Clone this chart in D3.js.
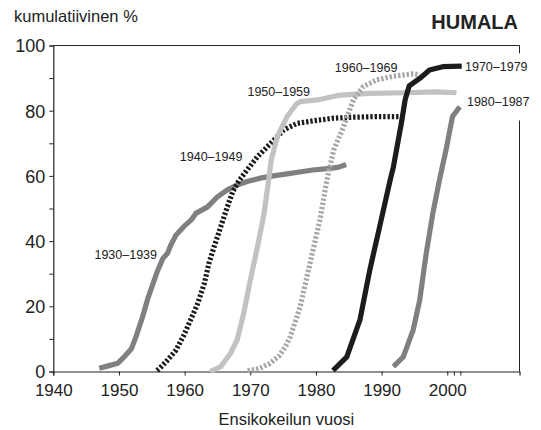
<!DOCTYPE html>
<html>
<head>
<meta charset="utf-8">
<script src="https://cdn.jsdelivr.net/npm/d3@7"></script>
<style>
  body { margin: 0; background: #fff; }
  svg { display: block; font-family: "Liberation Sans", Arial, sans-serif; }
</style>
</head>
<body>
<div id="chart"></div>
<script>
// cumulative share by year of first trial, one curve per birth cohort
const cohortNames = ["1930–1939", "1940–1949", "1950–1959", "1960–1969", "1970–1979", "1980–1987"];

const years1930 = [1947.0, 1948.5, 1949.8, 1950.8, 1951.9, 1952.6, 1953.6, 1954.4, 1955.2, 1955.9, 1956.7, 1957.4, 1957.9, 1958.7, 1959.9, 1961.0, 1961.7, 1963.5, 1965.0, 1966.5, 1968.0, 1969.5, 1971.5, 1973.5, 1975.6, 1977.5, 1979.5, 1982.2, 1983.5, 1984.6];
const values1930 = [1.0, 1.8, 2.5, 4.5, 7.0, 10.7, 16.8, 22.4, 27.0, 31.0, 34.7, 36.3, 38.8, 41.9, 44.5, 46.5, 48.5, 50.5, 53.6, 55.7, 57.2, 58.3, 59.3, 60.0, 60.6, 61.2, 61.8, 62.3, 62.7, 63.5];

const years1940 = [1955.8, 1956.2, 1957.4, 1958.7, 1959.9, 1960.9, 1962.0, 1963.0, 1963.7, 1964.5, 1965.5, 1966.5, 1967.3, 1968.2, 1969.2, 1971.1, 1973.1, 1975.1, 1977.1, 1979.6, 1982.7, 1985.7, 1989.2, 1992.8];
const values1940 = [0.3, 1.0, 3.5, 6.6, 11.2, 15.8, 20.9, 27.0, 33.2, 38.3, 44.4, 50.5, 55.0, 58.3, 61.0, 65.9, 70.0, 74.1, 76.1, 76.9, 77.7, 78.0, 78.2, 78.2];

const years1950 = [1963.9, 1965.5, 1967.0, 1968.0, 1969.0, 1970.0, 1971.1, 1972.1, 1972.8, 1973.2, 1974.1, 1975.6, 1977.0, 1977.6, 1980.2, 1983.7, 1988.2, 1993.7, 1998.3, 2001.4];
const values1950 = [0.0, 1.5, 5.6, 9.7, 17.8, 28.0, 38.3, 48.5, 58.7, 64.9, 72.0, 78.2, 82.0, 82.8, 83.3, 84.8, 85.3, 85.5, 85.8, 85.5];

const years1960 = [1969.6, 1971.5, 1973.0, 1974.4, 1975.4, 1976.1, 1977.6, 1979.1, 1980.6, 1981.7, 1982.7, 1984.2, 1985.7, 1987.2, 1989.2, 1991.8, 1994.8, 1995.8];
const values1960 = [0.2, 1.0, 2.5, 4.8, 7.8, 10.7, 19.9, 33.2, 46.5, 59.0, 67.9, 75.1, 83.3, 87.4, 89.4, 90.6, 91.3, 91.0];

const years1970 = [1982.6, 1984.7, 1986.7, 1988.2, 1989.7, 1991.3, 1991.8, 1993.0, 1993.6, 1994.2, 1995.8, 1997.3, 1999.3, 2002.2];
const values1970 = [0.3, 4.5, 15.8, 31.1, 44.4, 58.7, 62.8, 76.1, 83.5, 87.6, 89.9, 92.5, 93.5, 93.7];

const years1980 = [1991.8, 1993.3, 1994.8, 1995.8, 1996.8, 1997.8, 1998.8, 1999.8, 2000.8, 2001.9];
const values1980 = [1.5, 4.5, 12.7, 21.9, 36.3, 48.5, 58.7, 67.9, 78.2, 81.2];

// where each cohort label sits, in data units
const labelYears = [1955.8, 1968.8, 1979.1, 1992.4, 2002.7, 2003.0];
const labelValues = [35.7, 66.0, 85.7, 93.1, 93.4, 82.7];

const xTickYears = [1940, 1950, 1960, 1970, 1980, 1990, 2000, 2001, 2002];
const xTickLabels = ["1940", "1950", "1960", "1970", "1980", "1990", "2000", "", ""];
const yTicks = [0, 10, 20, 30, 40, 50, 60, 70, 80, 90, 100];

const series = [
  { years: years1930, values: values1930, color: "#808080", dash: null },
  { years: years1940, values: values1940, color: "#1c1c1c", dash: "2.4,1.9" },
  { years: years1950, values: values1950, color: "#c2c2c2", dash: null },
  { years: years1960, values: values1960, color: "#a8a8a8", dash: "2.4,1.9" },
  { years: years1970, values: values1970, color: "#1c1c1c", dash: null },
  { years: years1980, values: values1980, color: "#808080", dash: null },
];

const W = 541, H = 430;
const margin = { top: 45.5, right: 21.5, bottom: 58.5, left: 53.3 };
const width = W - margin.left - margin.right,
  height = H - margin.top - margin.bottom;

const svg = d3
  .select("#chart")
  .append("svg")
  .attr("width", W)
  .attr("height", H);

const g = svg.append("g").attr("transform", `translate(${margin.left},${margin.top})`);

const x = d3.scaleLinear().domain([1940, 2011]).range([0, width]);
const y = d3.scaleLinear().domain([0, 100]).range([height, 0]);

// frame: top line and right line (broken where the right-hand labels sit)
g.append("line")
  .attr("x1", 0).attr("x2", width)
  .attr("y1", y(100)).attr("y2", y(100))
  .attr("stroke", "#222").attr("stroke-width", 1);
g.append("line")
  .attr("x1", width).attr("x2", width)
  .attr("y1", y(100)).attr("y2", y(97.6))
  .attr("stroke", "#222").attr("stroke-width", 1);
g.append("line")
  .attr("x1", width).attr("x2", width)
  .attr("y1", y(77)).attr("y2", y(0))
  .attr("stroke", "#222").attr("stroke-width", 1);

// axes
const xAxis = g.append("g")
  .attr("transform", `translate(0,${height})`)
  .call(
    d3.axisBottom(x)
      .tickValues(xTickYears)
      .tickSize(4)
      .tickFormat((d, i) => xTickLabels[i])
  );
const yAxis = g.append("g")
  .call(
    d3.axisLeft(y)
      .tickValues(yTicks)
      .tickSize(4)
      .tickFormat((d) => (d % 20 === 0 ? d : ""))
  );

[xAxis, yAxis].forEach((a) => {
  a.select(".domain").attr("stroke", "#222").attr("stroke-width", 1.2);
  a.selectAll(".tick line").attr("stroke", "#222").attr("stroke-width", 1);
  a.selectAll(".tick text")
    .attr("fill", "#222")
    .style("font-family", "'Liberation Sans', Arial, sans-serif");
});
xAxis.selectAll(".tick text").style("font-size", "17px").attr("dy", "0").attr("y", 24.5);
yAxis.selectAll(".tick text").style("font-size", "18px").attr("x", -8).attr("dy", "0.35em");

// curves
const line = d3
  .line()
  .x((d) => x(d[0]))
  .y((d) => y(d[1]))
  .curve(d3.curveLinear);

series.forEach((s) => {
  const pts = s.years.map((yr, i) => [yr, s.values[i]]);
  g.append("path")
    .datum(pts)
    .attr("fill", "none")
    .attr("stroke", s.color)
    .attr("stroke-width", 5.2)
    .attr("stroke-linejoin", "round")
    .attr("stroke-dasharray", s.dash)
    .attr("d", line);
});

// cohort labels
cohortNames.forEach((name, i) => {
  g.append("text")
    .attr("x", x(labelYears[i]))
    .attr("y", y(labelValues[i]))
    .attr("dy", "0.35em")
    .attr("text-anchor", i >= 4 ? "start" : "end")
    .attr("fill", "#222")
    .style("font-size", "12.5px")
    .text(name);
});

// titles
svg.append("text")
  .attr("x", 14)
  .attr("y", 22)
  .attr("fill", "#222")
  .style("font-size", "16.5px")
  .text("kumulatiivinen %");

svg.append("text")
  .attr("x", 518)
  .attr("y", 29)
  .attr("text-anchor", "end")
  .attr("fill", "#222")
  .style("font-size", "20px")
  .style("font-weight", "bold")
  .text("HUMALA");

svg.append("text")
  .attr("x", margin.left + width / 2)
  .attr("y", 425)
  .attr("text-anchor", "middle")
  .attr("fill", "#222")
  .style("font-size", "16.5px")
  .text("Ensikokeilun vuosi");
</script>
</body>
</html>
